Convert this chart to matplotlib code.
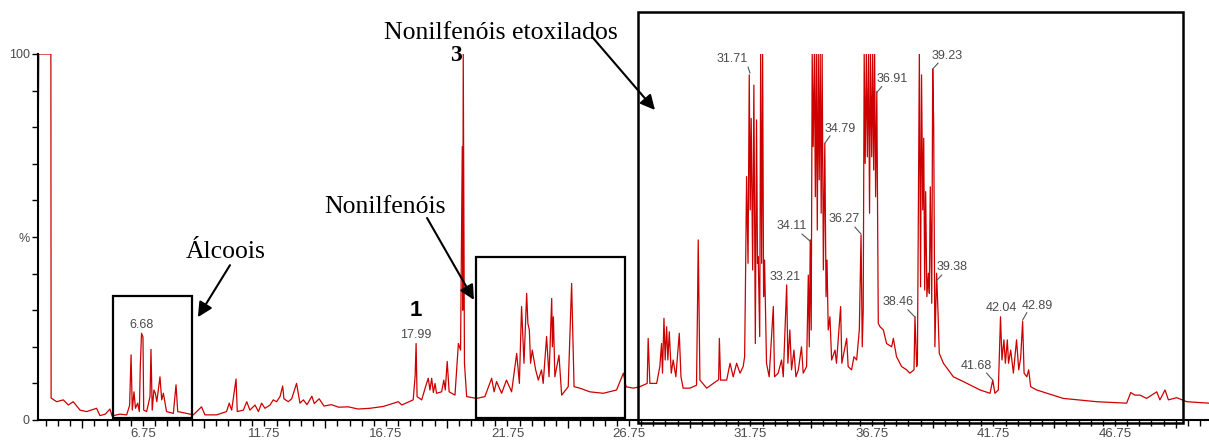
import numpy as np
import matplotlib
matplotlib.use("Agg")
import matplotlib.pyplot as plt
from matplotlib.patches import Rectangle

# ---------------- data (retention time in min, relative intensity in %) ----------------
t_start = [2.44, 2.46, 2.96, 2.97, 3.20, 3.47, 3.68, 3.88, 4.16, 4.43, 4.84, 4.98, 5.20, 5.39, 5.48, 5.80]
i_start = [78, 100, 100, 6.0, 5.0, 5.5, 4.1, 5.0, 2.7, 2.3, 3.2, 1.2, 1.6, 3.0, 1.1, 1.6]

t_alcool = [6.08, 6.20, 6.26, 6.31, 6.38, 6.44, 6.53, 6.60, 6.64, 6.69, 6.75, 6.78, 6.90, 7.04, 7.08,
            7.13, 7.20, 7.26, 7.32, 7.45, 7.52, 7.59, 7.72, 8.00, 8.11, 8.18, 8.55, 8.82]
i_alcool = [1.4, 4.0, 17.8, 2.7, 7.7, 3.2, 4.6, 2.3, 14.6, 23.7, 22.7, 2.7, 2.3, 6.4, 19.3,
            2.7, 8.2, 7.3, 5.0, 11.8, 5.5, 7.3, 2.3, 1.8, 9.6, 2.3, 1.8, 1.4]

t_mid = [9.16, 9.30, 9.78, 10.19, 10.30, 10.40, 10.58, 10.63, 10.88, 11.02, 11.15, 11.36, 11.50, 11.63,
         11.77, 11.98, 12.11, 12.25, 12.39, 12.50, 12.55, 12.73, 12.87, 13.07, 13.14, 13.21, 13.35, 13.50,
         13.70, 13.80, 14.00, 14.20, 14.50, 14.80, 15.20, 15.60, 16.09, 16.64, 17.26, 17.40, 17.87, 17.95,
         17.99, 18.03, 18.22, 18.42, 18.49, 18.56, 18.63, 18.70, 18.77, 18.83, 19.04, 19.13, 19.19, 19.27,
         19.35, 19.59, 19.73, 19.82, 19.89, 19.91, 19.93, 19.98, 20.07]
i_mid = [3.6, 1.4, 1.4, 2.3, 4.6, 2.7, 11.2, 2.3, 2.7, 5.0, 2.7, 4.1, 2.3, 4.6,
         3.2, 4.1, 5.5, 5.0, 6.4, 9.3, 5.8, 5.0, 5.8, 10.0, 7.3, 4.6, 5.5, 4.2,
         6.5, 4.5, 5.8, 3.8, 4.2, 3.5, 3.6, 3.0, 3.2, 3.7, 5.0, 4.1, 5.5, 12.0,
         20.9, 6.4, 5.5, 10.0, 11.4, 8.2, 11.4, 7.5, 10.0, 7.3, 7.7, 10.9, 8.2, 16.0,
         7.7, 6.8, 20.9, 19.1, 74.7, 30.0, 100, 15.5, 6.4]

t_nonil = [20.48, 20.82, 21.10, 21.20, 21.30, 21.51, 21.71, 21.92, 22.13, 22.24, 22.33, 22.43, 22.54,
           22.59, 22.65, 22.70, 22.77, 22.84, 22.91, 23.02, 23.15, 23.22, 23.36, 23.46, 23.57, 23.60,
           23.64, 23.70, 23.87, 23.98, 24.25, 24.39, 24.49, 24.73, 25.14, 25.69, 26.24, 26.52, 26.63, 26.93]
i_nonil = [5.9, 6.4, 11.4, 7.7, 10.5, 7.3, 10.9, 7.7, 18.2, 10.0, 31.0, 15.5, 34.6,
           26.4, 24.6, 15.5, 19.1, 16.4, 13.7, 10.9, 13.7, 10.0, 22.8, 11.8, 33.2, 20.0,
           28.2, 11.8, 17.7, 6.8, 9.1, 37.3, 9.1, 8.7, 7.7, 7.3, 8.2, 12.8, 9.1, 8.7]

t_etox1 = [27.20, 27.50, 27.54, 27.61, 27.89, 28.02, 28.09, 28.13, 28.19, 28.24, 28.30, 28.35, 28.41,
           28.49, 28.57, 28.68, 28.82, 28.89, 28.98, 29.26, 29.53, 29.57, 29.60, 29.67, 29.95, 30.22,
           30.44, 30.47, 30.52, 30.77, 30.91, 31.04, 31.18, 31.32, 31.45, 31.51]
i_etox1 = [9.1, 10.0, 22.3, 10.0, 10.0, 14.6, 20.9, 12.8, 27.8, 16.4, 25.5, 16.4, 24.1,
           12.8, 16.4, 11.8, 23.7, 11.8, 8.7, 8.7, 9.5, 30.5, 49.2, 10.9, 8.7, 10.0,
           11.0, 22.3, 10.9, 10.9, 15.5, 11.8, 15.5, 12.8, 14.6, 17.3]

t_etox2 = [31.54, 31.59, 31.65, 31.70, 31.74, 31.78, 31.84, 31.89, 31.95, 32.00, 32.04, 32.07, 32.13,
           32.17, 32.21, 32.25, 32.29, 32.33, 32.41, 32.52, 32.69, 32.74, 32.89, 33.03, 33.10, 33.24,
           33.29, 33.37, 33.44, 33.54, 33.62, 33.72, 33.85, 33.92, 34.06, 34.13, 34.17, 34.21, 34.25]
i_etox2 = [34.6, 66.5, 42.8, 94.3, 57.4, 82.4, 41.0, 91.5, 20.9, 82.0, 42.8, 44.6, 22.8,
           100, 42.8, 100, 33.7, 43.7, 15.5, 11.8, 31.0, 11.8, 12.8, 16.4, 11.8, 36.9,
           15.5, 24.6, 13.7, 19.1, 11.8, 13.7, 20.0, 12.8, 14.6, 39.6, 20.0, 49.2, 24.6]

t_etox3 = [34.29, 34.33, 34.38, 34.42, 34.46, 34.50, 34.54, 34.58, 34.62, 34.66, 34.70, 34.75, 34.81,
           34.86, 34.90, 34.95, 35.02, 35.09, 35.23, 35.29, 35.46, 35.51, 35.71, 35.77, 35.91, 36.01,
           36.12, 36.23, 36.30, 36.35]
i_etox3 = [100, 74.7, 100, 61.0, 100, 51.9, 100, 65.6, 100, 56.5, 100, 41.0, 75.6,
           33.7, 43.7, 24.6, 28.2, 16.4, 19.1, 15.5, 31.0, 15.5, 22.3, 14.6, 13.7, 17.3,
           16.4, 24.6, 50.5, 20.0]

t_etox4 = [36.39, 36.43, 36.47, 36.52, 36.56, 36.61, 36.65, 36.69, 36.74, 36.78, 36.82, 36.86, 36.90,
           36.95, 37.01, 37.08, 37.22, 37.35, 37.56, 37.63, 37.76, 37.97, 38.18, 38.31, 38.48, 38.52,
           38.59, 38.62]
i_etox4 = [30.0, 100, 70.1, 100, 71.9, 100, 56.5, 100, 71.9, 100, 68.3, 100, 61.0,
           89.7, 26.4, 25.5, 24.6, 20.9, 20.0, 22.3, 17.3, 14.6, 13.7, 12.8, 13.7, 28.2,
           14.6, 15.5]

t_etox5 = [38.70, 38.75, 38.79, 38.84, 38.88, 38.92, 38.96, 39.01, 39.07, 39.11, 39.15, 39.21, 39.25,
           39.29, 39.34, 39.41, 39.47, 39.52, 39.69, 40.10, 40.51, 41.20, 41.61, 41.72, 41.81, 41.95,
           42.04, 42.10, 42.18, 42.24, 42.32, 42.37, 42.46, 42.57, 42.70, 42.79, 42.87, 42.95, 43.01,
           43.12, 43.20, 43.28, 43.53, 44.62, 46.00, 47.23, 47.40, 47.57, 47.78, 48.05, 48.47, 48.60,
           48.81, 48.95, 49.29, 49.70, 50.62]
i_etox5 = [100, 36.4, 94.3, 57.4, 77.0, 35.5, 62.4, 33.7, 40.1, 34.6, 63.7, 31.9, 95.9,
           80.6, 20.0, 40.1, 29.1, 18.2, 15.5, 11.8, 10.5, 8.2, 7.3, 10.9, 7.3, 8.2,
           28.2, 16.4, 21.9, 15.5, 21.9, 15.5, 19.1, 12.8, 21.9, 13.7, 17.0, 26.9, 12.8,
           11.8, 13.7, 9.1, 8.2, 5.9, 5.0, 4.6, 7.5, 6.8, 6.8, 5.9, 7.7, 5.5,
           8.2, 5.5, 6.1, 5.0, 4.6]

peak_labels = ["6.68", "17.99", "31.71", "34.11", "33.21", "34.79", "36.27",
               "36.91", "38.46", "39.23", "39.38", "41.68", "42.04", "42.89"]
x_tick_labels = ["6.75", "11.75", "16.75", "21.75", "26.75", "31.75", "36.75", "41.75", "46.75"]

times = np.concatenate([t_start, t_alcool, t_mid, t_nonil, t_etox1, t_etox2, t_etox3, t_etox4, t_etox5])
inten = np.concatenate([i_start, i_alcool, i_mid, i_nonil, i_etox1, i_etox2, i_etox3, i_etox4, i_etox5])

# ---------------- layout ----------------
W, H = 1209, 443
fig = plt.figure(figsize=(W / 100, H / 100), dpi=100)
ax = fig.add_axes([38 / W, 23 / H, 1171 / W, 366 / H])
ax.plot(times, inten, color="#cc0000", lw=0.9)
ax.set_xlim(2.43, 50.62)
ax.set_ylim(0, 100)

for s in ("top", "right"):
    ax.spines[s].set_visible(False)
for s in ("left", "bottom"):
    ax.spines[s].set_linewidth(1.5)
    ax.spines[s].set_color("black")

sans = "Liberation Sans"
serif = "Liberation Serif"
gray = "#4a4a4a"

# y axis
ax.set_yticks([0, 50, 100], ["0", "%", "100"])
ax.set_yticks(np.arange(10, 100, 10), minor=True)
ax.tick_params(axis="y", which="both", direction="out", length=4, width=1, color="black",
               labelsize=9, labelcolor=gray, pad=2)
for lab in ax.get_yticklabels():
    lab.set_fontfamily(sans)

# x axis: half-minute ticks, labels every 5 min, longer ticks in between
minor_pos = np.arange(2.75, 50.6, 0.5)
label_pos = [float(v) for v in x_tick_labels]
minor_lab = []
for p in minor_pos:
    m = [s for s, v in zip(x_tick_labels, label_pos) if abs(v - p) < 1e-6]
    minor_lab.append(m[0] if m else "")
ax.set_xticks(minor_pos, minor_lab, minor=True)
long_pos = np.arange(4.25, 50.6, 5.0)
ax.set_xticks(long_pos, [""] * len(long_pos))
ax.tick_params(axis="x", which="minor", direction="out", length=4, width=1, color="black",
               labelsize=9.5, labelcolor=gray, pad=2)
ax.tick_params(axis="x", which="major", direction="out", length=6, width=1, color="black")
for lab in ax.get_xticklabels(minor=True):
    lab.set_fontfamily(sans)

# peak labels with leaders
label_xy = [(6.67, 26.0), (17.98, 23.2), (30.99, 98.6), (33.46, 53.0), (33.17, 39.1), (35.43, 79.5),
            (35.60, 54.9), (37.57, 93.2), (37.82, 32.2), (39.84, 99.5), (40.04, 41.8), (41.03, 14.8),
            (42.06, 30.6), (43.54, 31.1)]
for s, (x, y) in zip(peak_labels, label_xy):
    ax.text(x, y, s, ha="center", va="center", fontsize=9, color=gray, family=sans, clip_on=False)

leaders = [((31.65, 96.4), (31.73, 94.8)), ((33.87, 50.8), (34.20, 48.9)), ((35.02, 77.6), (34.82, 75.7)),
           ((36.05, 52.7), (36.30, 50.8)), ((37.15, 91.1), (36.94, 89.4)), ((38.23, 30.1), (38.52, 28.1)),
           ((39.47, 97.5), (39.25, 95.9)), ((39.62, 39.6), (39.41, 38.1)), ((41.47, 12.8), (41.72, 10.9)),
           ((43.12, 29.3), (42.95, 27.3))]
for (x1, y1), (x2, y2) in leaders:
    ax.plot([x1, x2], [y1, y2], color="#555555", lw=0.8, clip_on=False)

# group boxes
boxes = [((5.52, 0.5), 3.25, 33.4, 1.6), ((20.45, 0.5), 6.14, 44.0, 1.6), ((27.12, -0.8), 22.43, 112.3, 1.8)]
for (x0, y0), w, h, lw in boxes:
    ax.add_patch(Rectangle((x0, y0), w, h, fill=False, ec="black", lw=lw, clip_on=False, zorder=5))

arrow = dict(arrowstyle="-|>", color="black", lw=1.5, mutation_scale=22, shrinkA=0, shrinkB=0)
ax.annotate("", xy=(9.01, 28.1), xytext=(10.33, 42.3), arrowprops=arrow, annotation_clip=False)
ax.annotate("", xy=(20.37, 32.8), xytext=(18.44, 55.2), arrowprops=arrow, annotation_clip=False)
ax.annotate("", xy=(27.82, 84.7), xytext=(25.27, 104.4), arrowprops=arrow, annotation_clip=False)

ax.text(10.17, 45.9, "Álcoois", ha="center", va="center", fontsize=18.5, family=serif, clip_on=False)
ax.text(16.71, 58.2, "Nonilfenóis", ha="center", va="center", fontsize=18.5, family=serif, clip_on=False)
ax.text(21.48, 105.7, "Nonilfenóis etoxilados", ha="center", va="center", fontsize=18.5,
        family=serif, clip_on=False)
ax.text(19.63, 99.5, "3", ha="center", va="center", fontsize=17, fontweight="bold", family=serif,
        clip_on=False)
ax.text(17.98, 29.8, "1", ha="center", va="center", fontsize=16, fontweight="bold", family=sans,
        clip_on=False)

fig.savefig("out.png", dpi=100)
